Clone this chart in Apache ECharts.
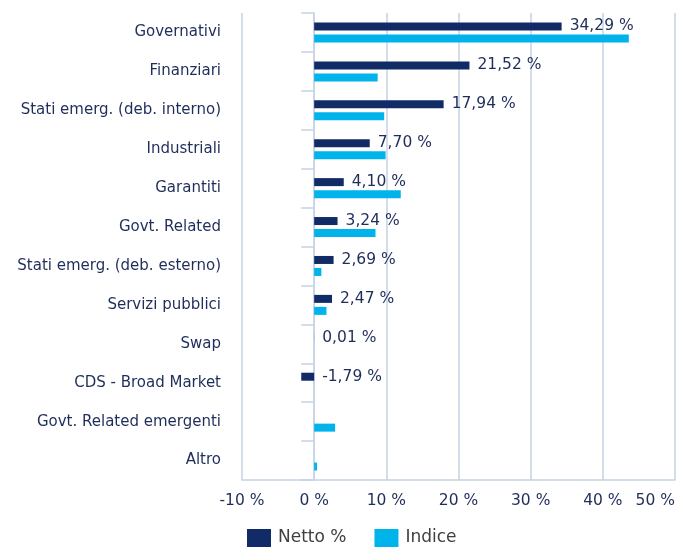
<!DOCTYPE html>
<html>
<head>
<meta charset="utf-8">
<script src="https://cdn.jsdelivr.net/npm/echarts@6/dist/echarts.min.js"></script>
<style>html,body{margin:0;padding:0;background:#fff}#c{width:693px;height:549px}</style>
</head>
<body>
<div id="c"></div>
<script>
const categories = ["Governativi","Finanziari","Stati emerg. (deb. interno)","Industriali","Garantiti","Govt. Related","Stati emerg. (deb. esterno)","Servizi pubblici","Swap","CDS - Broad Market","Govt. Related emergenti","Altro"];
const netto = [34.29, 21.52, 17.94, 7.70, 4.10, 3.24, 2.69, 2.47, 0.01, -1.79, null, null];
const indice = [43.6, 8.8, 9.7, 9.9, 12.0, 8.5, 1.0, 1.7, null, null, 2.9, 0.4];
const seriesNames = ["Netto %", "Indice"];
const xTicks = {min: -10, max: 50, interval: 10};

const FONT = 'DejaVu Sans';
const NAVY = '#112b66';
const CYAN = '#00b4eb';
const TXT = '#1f2d5a';
const GRID = '#c6d3e5';

const chart = echarts.init(document.getElementById('c'), null, {renderer: 'canvas'});
chart.setOption({
  animation: false,
  textStyle: {fontFamily: FONT},
  grid: {left: 242, right: 18, top: 13, bottom: 69, containLabel: false},
  legend: {
    data: seriesNames,
    left: 247, top: 529, padding: 0,
    itemWidth: 24, itemHeight: 18, itemGap: 28,
    icon: 'rect',
    textStyle: {fontFamily: FONT, fontSize: 17, color: '#3f3f3f', padding: [5, 0, 0, 2]}
  },
  xAxis: {
    type: 'value',
    min: xTicks.min, max: xTicks.max, interval: xTicks.interval,
    axisLine: {show: true, lineStyle: {color: GRID, width: 1.5}},
    axisTick: {show: false},
    splitLine: {show: true, lineStyle: {color: GRID, width: 1.5}},
    axisLabel: {
      fontFamily: FONT, fontSize: 15.5, color: TXT, margin: 13,
      alignMaxLabel: 'right',
      formatter: v => v + ' %'
    }
  },
  yAxis: {
    type: 'category',
    data: categories,
    inverse: true,
    axisLine: {show: true, lineStyle: {color: GRID, width: 1.5}},
    axisTick: {show: true, length: 13, lineStyle: {color: GRID, width: 1.5}},
    axisLabel: {fontFamily: FONT, fontSize: 15, color: TXT, margin: 21}
  },
  series: [
    {
      name: seriesNames[0], type: 'bar', data: netto,
      barWidth: 8, barGap: '50%',
      itemStyle: {color: NAVY},
      label: {
        show: true, position: 'right', distance: 8,
        fontFamily: FONT, fontSize: 15.5, color: TXT,
        formatter: p => (p.value == null ? '' : p.value.toFixed(2).replace('.', ',') + ' %')
      }
    },
    {
      name: seriesNames[1], type: 'bar', data: indice,
      barWidth: 8,
      itemStyle: {color: CYAN}
    }
  ]
});
</script>
</body>
</html>
